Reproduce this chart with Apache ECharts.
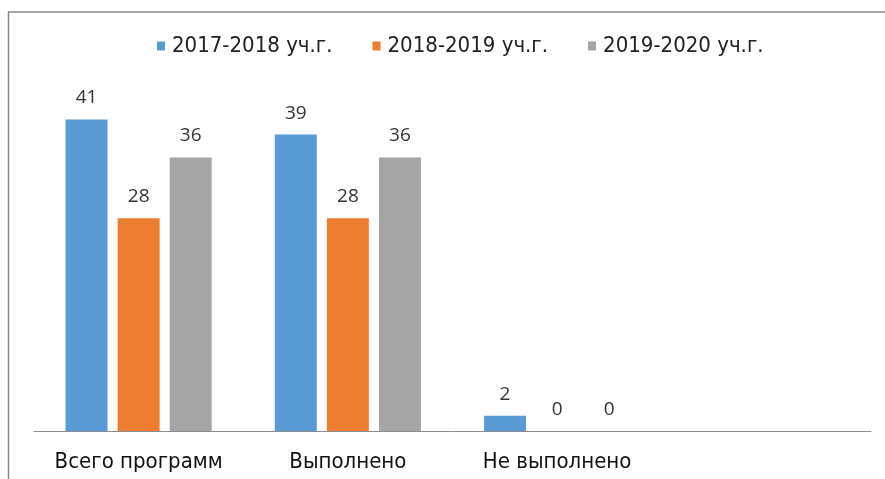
<!DOCTYPE html>
<html><head><meta charset="utf-8">
<script src="https://cdn.jsdelivr.net/npm/echarts@6/dist/echarts.min.js"></script>
<style>html,body{margin:0;padding:0;background:#fff}#c{width:885px;height:479px}</style>
</head><body><div id="c"></div>
<script>
const categories = ["Всего программ", "Выполнено", "Не выполнено", ""];
const seriesNames = ["2017-2018 уч.г.", "2018-2019 уч.г.", "2019-2020 уч.г."];
const values2017 = [41, 39, 2, null];
const values2018 = [28, 28, 0, null];
const values2019 = [36, 36, 0, null];
const colors = ["#5B9BD5", "#ED7D31", "#A5A5A5"];

const chart = echarts.init(document.getElementById('c'));
const narrow = "'Liberation Sans Narrow', 'DejaVu Sans Condensed', sans-serif";
function mk(name, data, color) {
  return {
    name: name, type: 'bar', data: data, barWidth: 42, barGap: '24%',
    itemStyle: { color: color },
    label: { show: true, position: 'top', distance: 12, color: '#333', fontSize: 19, fontFamily: 'Open Sans, sans-serif' }
  };
}
chart.setOption({
  animation: false,
  color: colors,
  legend: {
    top: 30, left: 152, itemWidth: 8, itemHeight: 9, itemGap: 40,
    icon: 'rect',
    textStyle: { fontSize: 22, color: '#222', fontFamily: narrow, padding: [0, 0, 0, 2] },
    data: seriesNames
  },
  grid: { left: 34, right: 14, top: 89, bottom: 48 },
  xAxis: {
    type: 'category', data: categories,
    axisLine: { lineStyle: { color: '#8c8c8c', width: 1 } },
    axisTick: { show: false },
    axisLabel: { interval: 0, margin: 20, fontSize: 22, color: '#111', fontFamily: narrow }
  },
  yAxis: { type: 'value', min: 0, max: 45, show: false, splitLine: { show: false } },
  graphic: [
    { type: 'line', shape: { x1: 8.5, y1: 12, x2: 8.5, y2: 479 }, style: { stroke: '#8a8a8a', lineWidth: 1.5 } },
    { type: 'line', shape: { x1: 8, y1: 12, x2: 885, y2: 12 }, style: { stroke: '#8a8a8a', lineWidth: 1.5 } }
  ],
  series: [
    mk(seriesNames[0], values2017, colors[0]),
    mk(seriesNames[1], values2018, colors[1]),
    mk(seriesNames[2], values2019, colors[2])
  ]
});
</script></body></html>
